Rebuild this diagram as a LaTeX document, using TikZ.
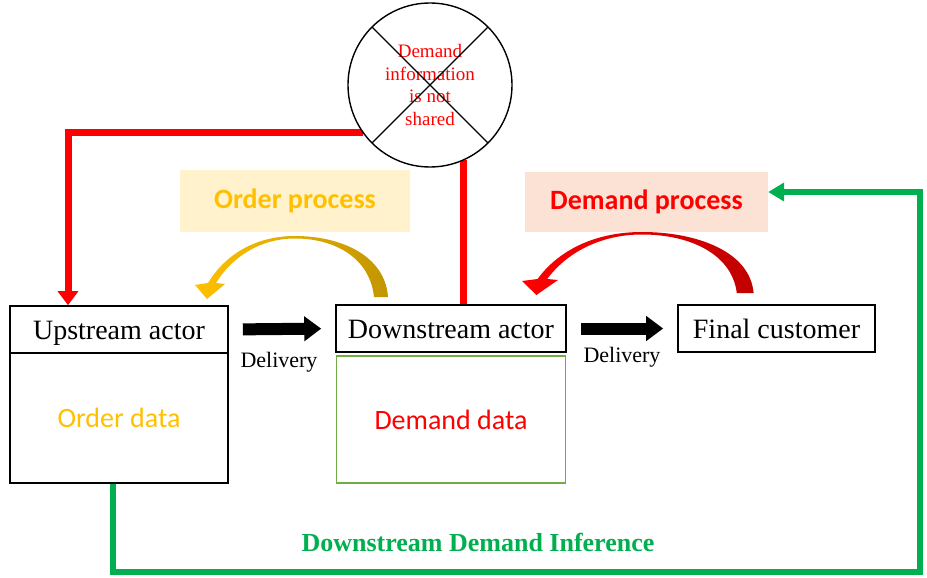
\documentclass[tikz,border=0pt]{standalone}
\usepackage{fontspec}
\setmainfont{Liberation Serif}
\newfontfamily\calfont{Carlito}
\usetikzlibrary{arrows.meta,calc}
\definecolor{ordgold}{HTML}{FFC000}
\definecolor{ordgolddark}{HTML}{C29600}
\definecolor{ordfill}{HTML}{FFF2CC}
\definecolor{demred}{HTML}{FF0000}
\definecolor{demreddark}{HTML}{C00000}
\definecolor{demfill}{HTML}{FBE2D5}
\definecolor{infgreen}{HTML}{00B050}
\definecolor{datagreen}{HTML}{70AD47}

% tapered curved arrow, local origin = apex x / bottom y
\tikzset{pics/bendarrow/.style 2 args={code={
  \shade[left color=#1, right color=#2]
    (93,0) .. controls (90,-42) and (45,-61) .. (0,-61)
    .. controls (-40,-61) and (-70,-42) .. (-87,-14)
    -- (-100,-12) -- (-88,2) -- (-70,-13) -- (-79,-14)
    .. controls (-63,-40) and (-35,-58.5) .. (0,-58.5)
    .. controls (40,-58.5) and (75,-39) .. (79,0) -- cycle;
}}}

\begin{document}
\begin{tikzpicture}[x=1pt,y=-1pt,
  actor/.style={draw=black, line width=1.6pt, minimum height=47pt, inner sep=0pt,
    text height=20pt, text depth=0pt, font=\fontsize{28}{32}\selectfont},
  databox/.style={line width=1.6pt, inner sep=0pt, font=\calfont\fontsize{28}{32}\selectfont},
  procbox/.style={inner sep=0pt, font=\calfont\bfseries\fontsize{28}{32}\selectfont},
  delivery/.style={line width=12pt, -{Triangle[length=17pt,width=24pt]},
    shorten <=14pt, shorten >=14pt},
  dlabel/.style={font=\fontsize{22}{24}\selectfont, inner sep=0pt},
  redlink/.style={draw=demred, line width=7pt},
  greenlink/.style={draw=infgreen, line width=6pt},
]
\fill[white] (0,0) rectangle (927,578);
\useasboundingbox (0,0) rectangle (927,578);

% actors and data stores
\node[actor, minimum width=218pt] (up) at (119,329.5) {Upstream actor};
\node[databox, draw=black, minimum width=218pt, minimum height=130pt, text=ordgold] (upd) at (119,418) {Order data};
\node[actor, minimum width=230pt] (dn) at (451,328.5) {Downstream actor};
\node[databox, draw=datagreen, line width=1.2pt, minimum width=229pt, minimum height=127pt, text=demred] (dd) at (451,419.5) {Demand data};
\node[actor, minimum width=197pt] (fc) at (776.5,328.5) {Final customer};

% process labels
\node[procbox, fill=ordfill, minimum width=230pt, minimum height=62pt, text=ordgold] (op) at (295,201) {Order process};
\node[procbox, fill=demfill, minimum width=243pt, minimum height=60pt, text=demred] (dp) at (646.5,202) {Demand process};

% curved process arrows
\pic at (295,297) {bendarrow={ordgold}{ordgolddark}};
\pic[xscale=1.2] at (642,293) {bendarrow={demred}{demreddark}};

% deliveries
\draw[delivery] (up.east) -- (dn.west);
\draw[delivery] (dn.east) -- (fc.west);
\node[dlabel] (d1) at (279,362) {Delivery};
\node[dlabel] (d2) at (622,357) {Delivery};

% blocked information link
\node[circle, minimum size=164pt, inner sep=0pt] (circ) at (430,85) {};
\draw[redlink, -{Triangle[length=14pt,width=20pt]}] (circ.215) -| ([xshift=-51pt]up.north);
\draw[redlink] (circ.-66) -- (circ.-66 |- dn.north);
\draw[black, line width=1.4pt, fill=white] (circ.center) circle (82pt);
\node[align=center, text=demred, font=\fontsize{19}{22.5}\selectfont] (blk) at (circ.center) {Demand\\information\\is not\\shared};
\draw[black, line width=1.4pt] (circ.135) -- (circ.-45);
\draw[black, line width=1.4pt] (circ.45) -- (circ.-135);

% inference feedback loop
\coordinate (gc) at (920,572);
\draw[greenlink, -{Triangle[length=16pt,width=18pt]}] ([xshift=-6pt]upd.south) |- (gc) |- ([yshift=10pt]dp.east);
\node[text=infgreen, font=\bfseries\fontsize{26}{30}\selectfont] (inf) at (478,542) {Downstream Demand Inference};
\end{tikzpicture}
\end{document}
